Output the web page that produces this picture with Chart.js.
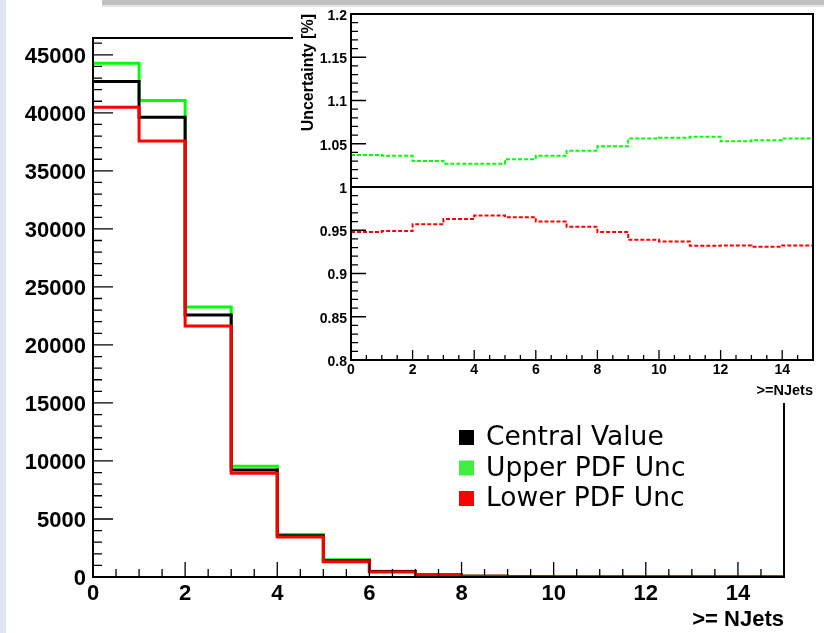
<!DOCTYPE html>
<html>
<head>
<meta charset="utf-8">
<script src="https://cdn.jsdelivr.net/npm/chart.js@4.4.1/dist/chart.umd.min.js"></script>
<style>
html, body { margin: 0; padding: 0; background: #ffffff; width: 824px; height: 633px; overflow: hidden; }
#wrap { position: relative; width: 824px; height: 633px; }
canvas { position: absolute; }
#main { left: 0; top: 0; }
#strip { position: absolute; left: 0; top: 0; width: 6px; height: 633px; background: #dfe5f0; }
#bar { position: absolute; left: 102px; top: 0; width: 722px; height: 5px; background: #c0c0c0; }
#bar2 { position: absolute; left: 102px; top: 5px; width: 722px; height: 2px; background: #e4e4e4; }
#pad { position: absolute; left: 293px; top: 7px; width: 531px; height: 396px; background: #ffffff; }
#inset { left: 293px; top: 0; }
</style>
</head>
<body>
<div id="wrap">
  <canvas id="main" width="824" height="633"></canvas>
  <div id="strip"></div>
  <div id="bar"></div>
  <div id="bar2"></div>
  <div id="pad"></div>
  <canvas id="inset" width="531" height="403"></canvas>
</div>
<script>
// ---------------- data ----------------
const binEdges = [0, 1, 2, 3, 4, 5, 6, 7, 8, 9, 10, 11, 12, 13, 14, 15];

const centralValue = [42700, 39630, 22580, 9220, 3560, 1400, 470, 180, 60, 20, 7, 2, 1, 0.3, 0.1];
const upperPdfUnc  = [44280, 41060, 23270, 9540, 3660, 1490, 500, 190, 63, 21, 7.4, 2.1, 1, 0.3, 0.1];
const lowerPdfUnc  = [40490, 37580, 21640, 8940, 3440, 1320, 440, 170, 57, 19, 6.5, 1.9, 0.9, 0.3, 0.1];

const ratioCentral = [1, 1, 1, 1, 1, 1, 1, 1, 1, 1, 1, 1, 1, 1, 1];
const ratioUpper   = [1.037, 1.036, 1.030, 1.027, 1.027, 1.032, 1.036, 1.042, 1.047, 1.056, 1.057, 1.058, 1.053, 1.054, 1.056];
const ratioLower   = [0.948, 0.949, 0.957, 0.963, 0.967, 0.965, 0.960, 0.954, 0.948, 0.939, 0.937, 0.932, 0.9325, 0.931, 0.9325];

const seriesLabels = ['Central Value', 'Upper PDF Unc', 'Lower PDF Unc'];

const mainXTicks  = [0, 2, 4, 6, 8, 10, 12, 14];
const mainYTicks  = [0, 5000, 10000, 15000, 20000, 25000, 30000, 35000, 40000, 45000];
const insetXTicks = [0, 2, 4, 6, 8, 10, 12, 14];
const insetYTicks = [0.8, 0.85, 0.9, 0.95, 1, 1.05, 1.1, 1.15, 1.2];
const insetYTickLabels = ['0.8', '0.85', '0.9', '0.95', '1', '1.05', '1.1', '1.15', '1.2'];

const mainXTitle  = '>= NJets';
const insetXTitle = '>=NJets';
const insetYTitle = 'Uncertainty [%]';

// ---------------- helpers ----------------
const FONT = "'Liberation Sans', Arial, Helvetica, sans-serif";

function toSteps(values) {
  const pts = values.map((v, i) => ({ x: binEdges[i], y: v }));
  pts.push({ x: binEdges[binEdges.length - 1], y: values[values.length - 1] });
  return pts;
}

function isMultiple(v, step) {
  const r = v / step;
  return Math.abs(r - Math.round(r)) < 1e-6;
}

function rootAxes(cfg) {
  return {
    id: 'rootAxes',
    afterDatasetsDraw(chart) {
      const { ctx, chartArea: a, scales: { x, y } } = chart;
      ctx.save();
      ctx.strokeStyle = '#000';
      ctx.lineWidth = cfg.tickWidth;
      ctx.beginPath();
      const nx = Math.round((x.max - x.min) / cfg.xMinor);
      for (let k = 0; k <= nx; k++) {
        const v = x.min + k * cfg.xMinor;
        const px = x.getPixelForValue(v);
        const len = isMultiple(v, cfg.xMajor) ? cfg.xMajorLen : cfg.xMinorLen;
        ctx.moveTo(px, a.bottom);
        ctx.lineTo(px, a.bottom - len);
      }
      const ny = Math.round((y.max - y.min) / cfg.yMinor);
      for (let k = 0; k <= ny; k++) {
        const v = y.min + k * cfg.yMinor;
        const py = y.getPixelForValue(v);
        const len = isMultiple(v - cfg.yMajorBase, cfg.yMajor) ? cfg.yMajorLen : cfg.yMinorLen;
        ctx.moveTo(a.left, py);
        ctx.lineTo(a.left + len, py);
      }
      ctx.stroke();
      ctx.lineWidth = cfg.frameWidth;
      ctx.strokeRect(a.left, a.top, a.right - a.left, a.bottom - a.top);
      ctx.restore();
    }
  };
}

const insideLegend = {
  id: 'insideLegend',
  afterDraw(chart) {
    const ctx = chart.ctx;
    const firstBaseline = 445, step = 30.5, box = 15, boxX = 459, textX = 486;
    ctx.save();
    ctx.font = "26.5px 'DejaVu Sans', sans-serif";
    ctx.textAlign = 'left';
    ctx.textBaseline = 'alphabetic';
    chart.data.datasets.forEach((ds, k) => {
      const base = firstBaseline + k * step;
      ctx.fillStyle = ds.backgroundColor;
      ctx.fillRect(boxX, base - box, box, box);
      ctx.fillStyle = '#000';
      ctx.fillText(ds.label, textX, base);
    });
    ctx.restore();
  }
};

// ---------------- main chart ----------------
new Chart(document.getElementById('main'), {
  type: 'line',
  data: {
    datasets: [
      { label: seriesLabels[0], data: toSteps(centralValue), borderColor: '#000000', backgroundColor: '#000000', order: 1 },
      { label: seriesLabels[1], data: toSteps(upperPdfUnc), borderColor: '#00ff00', backgroundColor: '#40ee40', order: 2 },
      { label: seriesLabels[2], data: toSteps(lowerPdfUnc), borderColor: '#ff0000', backgroundColor: '#ff0000', order: 0 }
    ]
  },
  options: {
    responsive: false,
    animation: false,
    devicePixelRatio: 1,
    layout: { padding: { left: 0, top: 38, right: 40, bottom: 0 } },
    elements: {
      line: { borderWidth: 3, stepped: true, tension: 0, fill: false },
      point: { radius: 0, hoverRadius: 0 }
    },
    plugins: { legend: { display: false }, tooltip: { enabled: false } },
    scales: {
      x: {
        type: 'linear', min: 0, max: 15,
        border: { display: false },
        grid: { display: false, drawTicks: false },
        afterBuildTicks: s => { s.ticks = mainXTicks.map(v => ({ value: v })); },
        afterFit: s => { s.height = 56; },
        ticks: { padding: 4, autoSkip: false, maxRotation: 0, color: '#000',
                 font: { family: FONT, size: 22, weight: 'bold' }, callback: v => String(v) },
        title: { display: true, text: mainXTitle, align: 'end', color: '#000',
                 font: { family: FONT, size: 22, weight: 'bold' }, padding: { top: 0, bottom: 0 } }
      },
      y: {
        type: 'linear', min: 0, max: 46450,
        border: { display: false },
        grid: { display: false, drawTicks: false },
        afterBuildTicks: s => { s.ticks = mainYTicks.map(v => ({ value: v })); },
        afterFit: s => { s.width = 93; },
        ticks: { padding: 7, labelOffset: 2, autoSkip: false, color: '#000',
                 font: { family: FONT, size: 22, weight: 'bold' }, callback: v => String(v) }
      }
    }
  },
  plugins: [rootAxes({ tickWidth: 1.3, frameWidth: 2,
    xMinor: 0.5, xMajor: 2, xMajorLen: 15, xMinorLen: 8,
    yMinor: 1000, yMajor: 5000, yMajorBase: 0, yMajorLen: 20, yMinorLen: 9 }), insideLegend]
});

// ---------------- inset chart ----------------
new Chart(document.getElementById('inset'), {
  type: 'line',
  data: {
    datasets: [
      { label: seriesLabels[0], data: toSteps(ratioCentral), borderColor: '#000000', borderWidth: 2, order: 0 },
      { label: seriesLabels[1], data: toSteps(ratioUpper), borderColor: '#00ff00', borderWidth: 2, borderDash: [4, 2], order: 1 },
      { label: seriesLabels[2], data: toSteps(ratioLower), borderColor: '#ff0000', borderWidth: 2, borderDash: [4, 2], order: 2 }
    ]
  },
  options: {
    responsive: false,
    animation: false,
    devicePixelRatio: 1,
    layout: { padding: { left: 0, top: 14, right: 11, bottom: 0 } },
    elements: {
      line: { stepped: true, tension: 0, fill: false },
      point: { radius: 0, hoverRadius: 0 }
    },
    plugins: { legend: { display: false }, tooltip: { enabled: false } },
    scales: {
      x: {
        type: 'linear', min: 0, max: 15,
        border: { display: false },
        grid: { display: false, drawTicks: false },
        afterBuildTicks: s => { s.ticks = insetXTicks.map(v => ({ value: v })); },
        afterFit: s => { s.height = 43; },
        ticks: { padding: 2, autoSkip: false, maxRotation: 0, color: '#000',
                 font: { family: FONT, size: 14, weight: 'bold' }, callback: v => String(v) },
        title: { display: true, text: insetXTitle, align: 'end', color: '#000',
                 font: { family: FONT, size: 14.5, weight: 'bold' }, padding: { top: 0, bottom: 3 } }
      },
      y: {
        type: 'linear', min: 0.8, max: 1.2,
        border: { display: false },
        grid: { display: false, drawTicks: false },
        afterBuildTicks: s => { s.ticks = insetYTicks.map(v => ({ value: v })); },
        afterFit: s => { s.width = 58; },
        ticks: { padding: 4, labelOffset: 2, autoSkip: false, color: '#000',
                 font: { family: FONT, size: 14, weight: 'bold' },
                 callback: v => insetYTickLabels[insetYTicks.indexOf(v)] },
        title: { display: true, text: insetYTitle, align: 'end', color: '#000',
                 font: { family: FONT, size: 16, weight: 'bold' }, padding: { top: 6, bottom: 0 } }
      }
    }
  },
  plugins: [rootAxes({ tickWidth: 1.3, frameWidth: 2,
    xMinor: 0.5, xMajor: 2, xMajorLen: 10, xMinorLen: 5,
    yMinor: 0.01, yMajor: 0.05, yMajorBase: 0.8, yMajorLen: 15, yMinorLen: 7 })]
});
</script>
</body>
</html>
